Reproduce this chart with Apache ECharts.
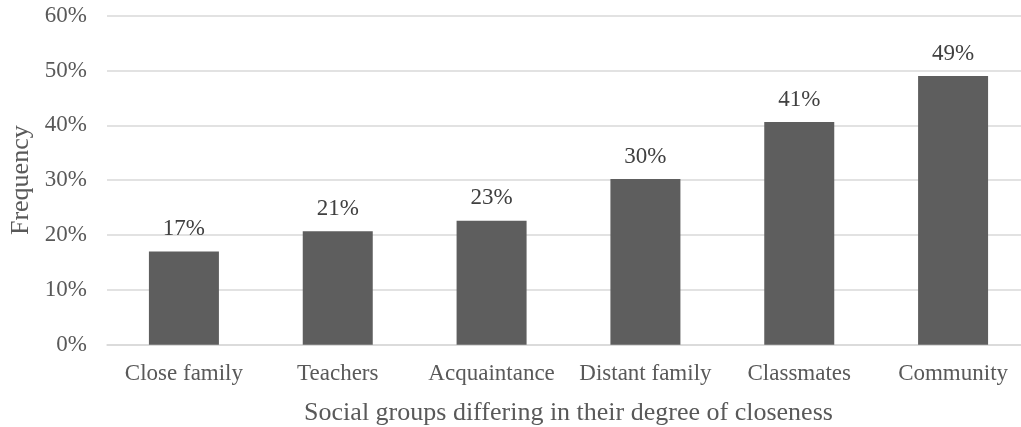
<!DOCTYPE html>
<html>
<head>
<meta charset="utf-8">
<script src="https://cdn.jsdelivr.net/npm/echarts@6/dist/echarts.min.js"></script>
<style>
  html, body { margin: 0; padding: 0; background: #ffffff; }
  #chart { width: 1021px; height: 427px; }
</style>
</head>
<body>
<div id="chart"></div>
<script>
// Share of respondents per social group (percent)
const categories = ['Close family', 'Teachers', 'Acquaintance', 'Distant family', 'Classmates', 'Community'];
const frequency = [17.0, 20.7, 22.6, 30.2, 40.6, 49.0];
const yTicks = [0, 10, 20, 30, 40, 50, 60];

const FONT = '"Liberation Serif", "Times New Roman", serif';
const TEXT = '#595959';

const chart = echarts.init(document.getElementById('chart'), null, { renderer: 'canvas' });
chart.setOption({
  animation: false,
  backgroundColor: '#ffffff',
  grid: {
    left: 107, right: -9, top: 15.7, bottom: 82.3,
    containLabel: false,
    outerBoundsMode: 'none'
  },
  xAxis: {
    type: 'category',
    data: categories,
    name: 'Social groups differing in their degree of closeness',
    nameLocation: 'middle',
    nameGap: 55,
    nameTextStyle: { fontFamily: FONT, fontSize: 26, color: TEXT },
    axisLine: { show: true, lineStyle: { color: '#d9d9d9', width: 1.5 } },
    axisTick: { show: false },
    axisLabel: { fontFamily: FONT, fontSize: 23, color: TEXT, margin: 18, interval: 0 }
  },
  yAxis: {
    type: 'value',
    min: yTicks[0],
    max: yTicks[yTicks.length - 1],
    interval: 10,
    name: 'Frequency',
    nameLocation: 'middle',
    nameGap: 71,
    nameTextStyle: { fontFamily: FONT, fontSize: 26, color: TEXT },
    axisLine: { show: false },
    axisTick: { show: false },
    splitLine: { show: true, lineStyle: { color: '#d9d9d9', width: 1.5 } },
    axisLabel: {
      fontFamily: FONT, fontSize: 23, color: TEXT, margin: 20,
      formatter: v => v + '%'
    }
  },
  series: [{
    type: 'bar',
    data: frequency,
    barWidth: 70,
    itemStyle: { color: '#5e5e5e' },
    label: {
      show: true,
      position: 'top',
      distance: 11,
      fontFamily: FONT,
      fontSize: 23,
      color: '#404040',
      formatter: p => Math.round(p.value) + '%'
    }
  }]
});
</script>
</body>
</html>
